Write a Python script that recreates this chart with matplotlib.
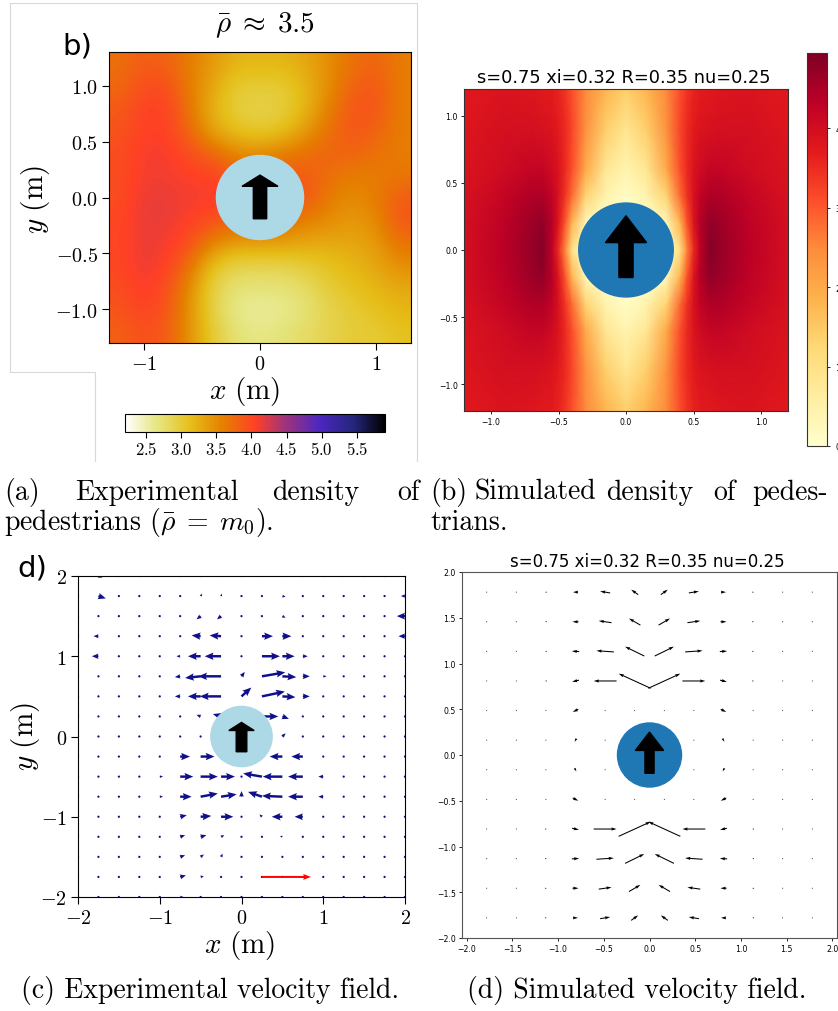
import numpy as np
import matplotlib
matplotlib.use('Agg')
import matplotlib.pyplot as plt
from matplotlib.patches import Circle
from matplotlib.lines import Line2D

plt.rcParams['mathtext.fontset'] = 'cm'

W, H = 838, 1012

# ---------------- data ----------------
# (a) experimental density, rows y=1.2 .. -1.2, cols x=-1.2 .. 1.2 (step 0.2)
exp_density = [
    [3.7, 3.85, 3.8, 3.6, 3.4, 3.2, 3.2, 3.2, 3.3, 3.5, 3.7, 3.8, 3.6],
    [3.75, 3.95, 3.95, 3.6, 3.3, 3.0, 3.0, 3.0, 3.2, 3.5, 3.8, 3.9, 3.6],
    [3.85, 4.05, 4.05, 3.65, 3.2, 2.95, 2.9, 2.95, 3.2, 3.6, 3.9, 3.9, 3.6],
    [3.9, 4.05, 4.05, 3.75, 3.3, 3.1, 3.0, 3.1, 3.4, 3.7, 3.9, 3.8, 3.6],
    [3.95, 4.1, 4.1, 3.95, 3.75, 3.5, 3.5, 3.6, 3.7, 3.8, 3.8, 3.7, 3.6],
    [3.95, 4.1, 4.1, 4.05, 4.05, 3.85, 3.7, 3.85, 3.85, 3.7, 3.6, 3.6, 3.65],
    [3.95, 4.15, 4.15, 4.1, 4.1, 4.05, 4.0, 3.95, 3.9, 3.6, 3.5, 3.6, 3.85],
    [4.0, 4.15, 4.15, 4.05, 3.95, 3.8, 3.8, 3.7, 3.6, 3.5, 3.4, 3.5, 3.9],
    [4.0, 4.15, 4.1, 3.95, 3.55, 3.4, 3.4, 3.4, 3.3, 3.3, 3.3, 3.4, 3.7],
    [4.0, 4.15, 4.05, 3.7, 3.1, 2.9, 2.9, 2.9, 3.0, 3.1, 3.2, 3.3, 3.5],
    [3.95, 4.1, 3.95, 3.5, 2.9, 2.7, 2.7, 2.7, 2.8, 3.0, 3.1, 3.2, 3.3],
    [3.9, 4.05, 3.9, 3.45, 2.9, 2.6, 2.55, 2.6, 2.7, 2.9, 3.0, 3.1, 3.2],
    [3.8, 3.95, 3.85, 3.45, 3.0, 2.7, 2.65, 2.7, 2.8, 2.9, 3.0, 3.0, 3.1],
]
a_xticks = [-1, 0, 1]
a_xlabels = ['$-1$', '$0$', '$1$']
a_yticks = [-1.0, -0.5, 0.0, 0.5, 1.0]
a_ylabels = ['$-1.0$', '$-0.5$', '$0.0$', '$0.5$', '$1.0$']
a_cticks = [2.5, 3.0, 3.5, 4.0, 4.5, 5.0, 5.5]
a_clabels = ['$2.5$', '$3.0$', '$3.5$', '$4.0$', '$4.5$', '$5.0$', '$5.5$']

# (b) simulated density on a non-uniform grid
b_x = [-1.2, -0.9, -0.7, -0.62, -0.55, -0.5, -0.45, -0.4, -0.3, -0.15, 0,
       0.15, 0.3, 0.4, 0.45, 0.5, 0.55, 0.62, 0.7, 0.9, 1.2]
b_y = [1.2, 0.9, 0.6, 0.4, 0.2, 0.0, -0.2, -0.4, -0.6, -0.9, -1.2]
sim_density = [
    [3.75, 3.85, 3.8, 3.75, 3.7, 3.6, 3.4, 3.1, 2.5, 1.8, 1.4, 1.8, 2.5, 3.1, 3.4, 3.6, 3.7, 3.75, 3.8, 3.85, 3.75],
    [3.8, 3.95, 3.95, 3.9, 3.85, 3.7, 3.5, 3.2, 2.4, 1.4, 0.85, 1.4, 2.4, 3.2, 3.5, 3.7, 3.85, 3.9, 3.95, 3.95, 3.8],
    [3.85, 4.05, 4.2, 4.2, 4.05, 3.85, 3.5, 3.1, 2.0, 0.8, 0.4, 0.8, 2.0, 3.1, 3.5, 3.85, 4.05, 4.2, 4.2, 4.05, 3.85],
    [3.9, 4.2, 4.45, 4.45, 4.25, 3.9, 3.4, 2.8, 1.3, 0.4, 0.1, 0.4, 1.3, 2.8, 3.4, 3.9, 4.25, 4.45, 4.45, 4.2, 3.9],
    [3.95, 4.3, 4.65, 4.75, 4.4, 3.8, 3.0, 1.8, 0.3, 0.1, 0.1, 0.1, 0.3, 1.8, 3.0, 3.8, 4.4, 4.75, 4.65, 4.3, 3.95],
    [3.95, 4.35, 4.7, 4.9, 4.3, 3.5, 2.5, 1.0, 0.1, 0.1, 0.1, 0.1, 0.1, 1.0, 2.5, 3.5, 4.3, 4.9, 4.7, 4.35, 3.95],
    [3.95, 4.3, 4.65, 4.75, 4.4, 3.8, 3.0, 1.8, 0.3, 0.1, 0.1, 0.1, 0.3, 1.8, 3.0, 3.8, 4.4, 4.75, 4.65, 4.3, 3.95],
    [3.9, 4.2, 4.45, 4.45, 4.25, 3.9, 3.4, 2.8, 1.3, 0.4, 0.1, 0.4, 1.3, 2.8, 3.4, 3.9, 4.25, 4.45, 4.45, 4.2, 3.9],
    [3.85, 4.05, 4.2, 4.2, 4.05, 3.85, 3.5, 3.1, 2.0, 0.8, 0.4, 0.8, 2.0, 3.1, 3.5, 3.85, 4.05, 4.2, 4.2, 4.05, 3.85],
    [3.8, 3.95, 3.95, 3.9, 3.85, 3.7, 3.5, 3.2, 2.4, 1.4, 0.85, 1.4, 2.4, 3.2, 3.5, 3.7, 3.85, 3.9, 3.95, 3.95, 3.8],
    [3.75, 3.85, 3.8, 3.75, 3.7, 3.6, 3.4, 3.1, 2.5, 1.8, 1.4, 1.8, 2.5, 3.1, 3.4, 3.6, 3.7, 3.75, 3.8, 3.85, 3.75],
]
b_ticks = [-1.0, -0.5, 0.0, 0.5, 1.0]
b_cticks = [0, 1, 2, 3, 4]
sim_title = 's=0.75 xi=0.32 R=0.35 nu=0.25'

# (c) experimental velocity field, rows y=2 .. -2, cols x=-2 .. 2 (step 0.25)
c_x = [-2, -1.75, -1.5, -1.25, -1, -0.75, -0.5, -0.25, 0, 0.25, 0.5, 0.75, 1, 1.25, 1.5, 1.75, 2]
c_y = [2, 1.75, 1.5, 1.25, 1, 0.75, 0.5, 0.25, 0, -0.25, -0.5, -0.75, -1, -1.25, -1.5, -1.75, -2]
c_u = [
    [0, 0.05, 0, 0, 0, 0, 0, 0, 0, 0, 0.03, 0, 0, 0, 0, 0, 0],
    [0, 0.09, 0, 0, 0, 0, 0.02, 0.01, 0, 0.02, 0.04, 0, 0, 0, 0, 0, -0.05],
    [0, 0, 0, 0, 0, 0, -0.05, -0.05, 0, -0.02, 0.04, 0.02, 0, 0, 0, 0.01, -0.1],
    [0, -0.06, 0, 0, 0, 0, -0.11, -0.14, 0, 0.135, 0.11, 0.02, 0, 0, 0, 0, -0.08],
    [0, -0.08, 0, 0, 0, -0.045, -0.155, -0.2, 0.01, 0.22, 0.15, 0.06, 0, 0, 0, 0, 0],
    [0, 0, 0, 0, 0, -0.065, -0.19, -0.28, 0.04, 0.285, 0.17, 0.085, 0.04, 0, 0, 0, 0],
    [0, 0, 0, 0, 0, -0.065, -0.155, -0.26, 0.12, 0.28, 0.16, 0.085, 0.02, 0, 0, 0, 0],
    [0, 0, 0, 0, 0, 0, -0.05, -0.1, 0, 0.2, 0.08, 0.02, 0, 0, 0, 0, 0],
    [0, 0, 0, 0, 0, 0, -0.02, 0, 0, 0, 0.04, 0, 0, 0, 0, 0, 0],
    [0, 0, 0, 0, 0, 0.12, 0.17, 0, 0, 0, -0.155, -0.14, 0, 0, 0, 0, 0],
    [0, 0, 0, 0, 0.04, 0.16, 0.21, 0.17, 0, -0.23, -0.24, -0.18, -0.06, 0, 0, 0, 0],
    [0, 0, 0, 0, 0.04, 0.14, 0.21, 0.19, 0, -0.17, -0.25, -0.18, -0.06, 0, 0, 0, 0],
    [0, 0, 0, 0, 0, 0.08, 0.13, 0.15, 0.02, -0.03, -0.13, -0.1, 0, 0, 0, 0, 0],
    [0, 0, 0, 0, 0, 0.06, 0.07, 0.04, 0, 0, -0.03, 0, 0, 0, 0, 0, 0],
    [0, 0, 0, 0, 0, 0.06, 0.04, 0.02, 0, 0, 0, 0, 0, 0, 0, 0, 0],
    [0, 0, 0, 0, 0, 0.07, 0.04, 0, 0, 0, 0, 0, 0, 0, 0, 0, 0],
    [0, 0, 0, 0, 0, 0.04, 0, 0, 0, 0, 0, 0, 0, 0, 0, 0, 0],
]
c_v = [
    [0, -0.02, 0, 0, 0, 0, 0, 0, 0, 0, 0, 0, 0, 0, 0, 0, 0],
    [0, -0.03, 0, 0, 0, 0, 0.03, 0.03, 0, -0.01, -0.01, 0, 0, 0, 0, 0, 0],
    [0, 0, 0, 0, 0, 0, -0.04, -0.04, 0, 0.01, -0.02, 0, 0, 0, 0, 0.01, 0],
    [0, 0, 0, 0, 0, 0, 0.01, 0.01, 0, 0, 0, 0, 0, 0, 0, 0, 0],
    [0, 0, 0, 0, 0, 0, 0, 0, 0.02, 0, 0, 0, 0, 0, 0, 0, 0],
    [0, 0, 0, 0, 0, -0.01, -0.02, 0, 0.055, 0.05, -0.01, 0, 0, 0, 0, 0, 0],
    [0, 0, 0, 0, 0, 0, 0, 0, 0.11, 0.06, -0.01, 0, 0, 0, 0, 0, 0],
    [0, 0, 0, 0, 0, 0, 0.02, 0.03, 0, 0, -0.03, 0, 0, 0, 0, 0, 0],
    [0, 0, 0, 0, 0, 0, -0.01, 0, 0, 0, 0.04, 0, 0, 0, 0, 0, 0],
    [0, 0, 0, 0, 0, 0, 0, 0, 0, 0, 0, 0, 0, 0, 0, 0, 0],
    [0, 0, 0, 0, 0, 0, 0, 0, 0, 0.04, 0, 0, 0, 0, 0, 0, 0],
    [0, 0, 0, 0, 0, 0, 0.04, 0.03, 0.07, 0.06, 0.01, 0, 0, 0, 0, 0, 0],
    [0, 0, 0, 0, 0, 0.02, 0.01, 0, 0, 0.03, 0, 0, 0, 0, 0, 0, 0],
    [0, 0, 0, 0, 0, 0.02, 0.02, 0.02, 0, 0, 0.01, 0, 0, 0, 0, 0, 0],
    [0, 0, 0, 0, 0, 0.02, 0.03, 0.04, 0, 0, 0, 0, 0, 0, 0, 0, 0],
    [0, 0, 0, 0, 0, 0.02, 0.01, 0, 0, 0, 0, 0, 0, 0, 0, 0, 0],
    [0, 0, 0, 0, 0, 0, 0, 0, 0, 0, 0, 0, 0, 0, 0, 0, 0],
]
c_ref = [0.25, -1.75, 0.6, 0.0]   # x, y, u, v of the red reference arrow
c_ticks = [-2, -1, 0, 1, 2]
c_labels = ['$-2$', '$-1$', '$0$', '$1$', '$2$']

# (d) simulated velocity field, rows y=1.78 .. -1.78
d_x = [-1.78, -1.456, -1.133, -0.809, -0.485, -0.162, 0.162, 0.485, 0.809, 1.133, 1.456, 1.78]
d_y = [1.78, 1.456, 1.133, 0.809, 0.485, 0.162, -0.162, -0.485, -0.809, -1.133, -1.456, -1.78]
d_u = [
    [0, 0, -0.02, -0.055, -0.11, -0.077, 0.077, 0.11, 0.055, 0.02, 0, 0],
    [0, 0, -0.02, -0.066, -0.14, -0.125, 0.125, 0.14, 0.066, 0.02, 0, 0],
    [0, 0, -0.02, -0.08, -0.19, -0.21, 0.21, 0.19, 0.08, 0.02, 0, 0],
    [0, 0, -0.02, -0.075, -0.25, -0.35, 0.35, 0.25, 0.075, 0.02, 0, 0],
    [0, 0, 0, -0.06, 0, 0, 0, 0, 0.06, 0, 0, 0],
    [0, 0, 0, -0.02, 0, 0, 0, 0, 0.02, 0, 0, 0],
    [0, 0, 0, 0.02, 0, 0, 0, 0, -0.02, 0, 0, 0],
    [0, 0, 0, 0.06, 0, 0, 0, 0, -0.06, 0, 0, 0],
    [0, 0, 0.02, 0.075, 0.25, 0.35, -0.35, -0.25, -0.075, -0.02, 0, 0],
    [0, 0, 0.02, 0.08, 0.19, 0.21, -0.21, -0.19, -0.08, -0.02, 0, 0],
    [0, 0, 0.02, 0.066, 0.14, 0.125, -0.125, -0.14, -0.066, -0.02, 0, 0],
    [0, 0, 0.02, 0.055, 0.11, 0.077, -0.077, -0.11, -0.055, -0.02, 0, 0],
]
d_v = [
    [0, 0, 0, 0, 0.018, 0.055, 0.055, 0.018, 0, 0, 0, 0],
    [0, 0, 0, 0, 0.02, 0.073, 0.073, 0.02, 0, 0, 0, 0],
    [0, 0, 0, 0.005, 0.013, 0.103, 0.103, 0.013, 0.005, 0, 0, 0],
    [0, 0, 0, -0.018, 0, 0.16, 0.16, 0, -0.018, 0, 0, 0],
    [0, 0, 0, -0.03, 0, 0, 0, 0, -0.03, 0, 0, 0],
    [0, 0, 0, -0.035, 0, 0, 0, 0, -0.035, 0, 0, 0],
    [0, 0, 0, -0.035, 0, 0, 0, 0, -0.035, 0, 0, 0],
    [0, 0, 0, -0.03, 0, 0, 0, 0, -0.03, 0, 0, 0],
    [0, 0, 0, -0.018, 0, 0.16, 0.16, 0, -0.018, 0, 0, 0],
    [0, 0, 0, 0.005, 0.013, 0.103, 0.103, 0.013, 0.005, 0, 0, 0],
    [0, 0, 0, 0, 0.02, 0.073, 0.073, 0.02, 0, 0, 0, 0],
    [0, 0, 0, 0, 0.018, 0.055, 0.055, 0.018, 0, 0, 0, 0],
]
d_ticks = [-2.0, -1.5, -1.0, -0.5, 0.0, 0.5, 1.0, 1.5, 2.0]

cap_a1 = ['(a)', 'Experimental', 'density', 'of']
cap_a2 = r'pedestrians ($\bar{\rho}\;=\;m_0$).'
cap_b1 = ['(b)', 'Simulated', 'density', 'of', 'pedes-']
cap_b2 = 'trians.'
cap_c = '(c) Experimental velocity field.'
cap_d = '(d) Simulated velocity field.'


def box(l, t, r, b):
    # pixel box (left, top, right, bottom) -> figure fraction rect
    return [l / W, 1 - b / H, (r - l) / W, (b - t) / H]


def fx(x):
    return x / W


def fy(y):
    return 1 - y / H


fig = plt.figure(figsize=(W / 100, H / 100), dpi=100)

# light frame around the screenshot of panel (a)
fr_x = [95, 95, 10, 10, 417, 417]
fr_y = [462, 373, 373, 4, 4, 462]
fig.add_artist(Line2D([fx(v) for v in fr_x], [fy(v) for v in fr_y],
                      color='#d8d8d8', lw=0.8, transform=fig.transFigure))

# ---------------- (a) ----------------
ax_a = fig.add_axes(box(109, 53, 411, 344))
im_a = ax_a.imshow(np.array(exp_density), extent=[-1.3, 1.3, -1.3, 1.3], origin='upper',
                   cmap='CMRmap_r', vmin=2.2, vmax=5.9, interpolation='bicubic', aspect='auto')
ax_a.add_patch(Circle((0, 0), 0.375, color='lightblue', zorder=3))
ax_a.arrow(0, -0.19, 0, 0.39, width=0.115, head_width=0.31, head_length=0.1,
           length_includes_head=True, color='black', zorder=4)
ax_a.set_xlim(-1.3, 1.3)
ax_a.set_ylim(-1.3, 1.3)
ax_a.set_xticks(a_xticks)
ax_a.set_xticklabels(a_xlabels, fontsize=14.5)
ax_a.set_yticks(a_yticks)
ax_a.set_yticklabels(a_ylabels, fontsize=14.5)
ax_a.tick_params(direction='out', length=5, width=0.8, pad=3)
fig.text(fx(265), fy(25), r'$\bar{\rho}\;\approx\;3.5$', fontsize=21, ha='center', va='center')
fig.text(fx(62), fy(47), 'b)', fontsize=21, ha='left', va='center')
fig.text(fx(35), fy(200), r'$y\ (\mathrm{m})$', fontsize=21, rotation=90, ha='center', va='center')
fig.text(fx(245), fy(391), r'$x\ (\mathrm{m})$', fontsize=21, ha='center', va='center')

cax_a = fig.add_axes(box(125, 415, 385, 433))
cb_a = fig.colorbar(im_a, cax=cax_a, orientation='horizontal')
cb_a.set_ticks(a_cticks)
cb_a.set_ticklabels(a_clabels)
cax_a.tick_params(labelsize=12, length=4, pad=2)

# ---------------- (b) ----------------
ax_b = fig.add_axes(box(464, 90, 788, 412))
BX, BY = np.meshgrid(b_x, b_y)
mesh_b = ax_b.pcolormesh(BX, BY, np.array(sim_density), cmap='YlOrRd', vmin=0, vmax=4.95,
                         shading='gouraud')
ax_b.add_patch(Circle((0, 0), 0.35, color='#1f77b4', zorder=3))
ax_b.arrow(0, -0.205, 0, 0.46, width=0.105, head_width=0.305, head_length=0.2,
           length_includes_head=True, color='black', zorder=4)
ax_b.set_xlim(-1.2, 1.2)
ax_b.set_ylim(-1.2, 1.2)
ax_b.set_xticks(b_ticks)
ax_b.set_yticks(b_ticks)
ax_b.tick_params(labelsize=5.6, length=2.5, width=0.6, pad=2)
for s in ax_b.spines.values():
    s.set_color('#333333')
    s.set_linewidth(0.8)
fig.text(fx(624), fy(78), sim_title, fontsize=12.8, ha='center', va='center')

cax_b = fig.add_axes(box(807, 54, 827, 447))
cb_b = fig.colorbar(mesh_b, cax=cax_b)
cb_b.set_ticks(b_cticks)
cax_b.tick_params(labelsize=5.6, length=2.5, width=0.6)
cb_b.outline.set_edgecolor('#333333')

# ---------------- (c) ----------------
ax_c = fig.add_axes(box(78, 577, 405, 898))
CX, CY = np.meshgrid(c_x, c_y)
ax_c.quiver(CX, CY, np.array(c_u), np.array(c_v), color='#10108a', angles='xy',
            scale_units='xy', scale=1, width=0.0075, headwidth=3, headlength=3.6,
            headaxislength=3.2, zorder=2)
ax_c.quiver([c_ref[0]], [c_ref[1]], [c_ref[2]], [c_ref[3]], color='red', angles='xy',
            scale_units='xy', scale=1, width=0.006, headwidth=3, headlength=4,
            headaxislength=3.6, zorder=2)
ax_c.add_patch(Circle((0, 0), 0.375, color='lightblue', zorder=3))
ax_c.arrow(0, -0.19, 0, 0.365, width=0.13, head_width=0.31, head_length=0.1,
           length_includes_head=True, color='black', zorder=4)
ax_c.set_xlim(-2, 2)
ax_c.set_ylim(-2, 2)
ax_c.set_xticks(c_ticks)
ax_c.set_xticklabels(c_labels, fontsize=14.5)
ax_c.set_yticks(c_ticks)
ax_c.set_yticklabels(c_labels, fontsize=14.5)
ax_c.tick_params(direction='out', length=5, width=0.8, pad=3)
fig.text(fx(32), fy(568), 'd)', fontsize=21, ha='center', va='center')
fig.text(fx(25), fy(737), r'$y\ (\mathrm{m})$', fontsize=21, rotation=90, ha='center', va='center')
fig.text(fx(240), fy(946), r'$x\ (\mathrm{m})$', fontsize=21, ha='center', va='center')

# ---------------- (d) ----------------
ax_d = fig.add_axes(box(462, 573, 837, 939))
DX, DY = np.meshgrid(d_x, d_y)
ax_d.quiver(DX, DY, np.array(d_u), np.array(d_v), color='black', angles='xy',
            scale_units='xy', scale=1, pivot='mid', width=0.0028, zorder=2)
ax_d.add_patch(Circle((0, 0), 0.35, color='#1f77b4', zorder=3))
ax_d.arrow(0, -0.2, 0, 0.45, width=0.1, head_width=0.31, head_length=0.2,
           length_includes_head=True, color='black', zorder=4)
ax_d.set_xlim(-2.05, 2.05)
ax_d.set_ylim(-2.0, 2.0)
ax_d.set_xticks(d_ticks)
ax_d.set_yticks(d_ticks)
ax_d.tick_params(labelsize=5.6, length=2.5, width=0.6, pad=2)
for s in ax_d.spines.values():
    s.set_color('#555555')
    s.set_linewidth(0.8)
fig.text(fx(647), fy(562), sim_title, fontsize=12, ha='center', va='center')

# ---------------- captions ----------------
cap = dict(family='cmr10', fontsize=20, va='baseline')
for word, xp in zip(cap_a1, [4, 75, 272, 397]):
    fig.text(fx(xp), fy(500), word, ha='left', **cap)
fig.text(fx(4), fy(530), cap_a2, ha='left', **cap)
for word, xp in zip(cap_b1, [430, 474, 606, 713, 752]):
    fig.text(fx(xp), fy(500), word, ha='left', **cap)
fig.text(fx(430), fy(530), cap_b2, ha='left', **cap)
fig.text(fx(210), fy(998), cap_c, ha='center', **cap)
fig.text(fx(637), fy(998), cap_d, ha='center', **cap)

fig.savefig('out.png', dpi=100)
